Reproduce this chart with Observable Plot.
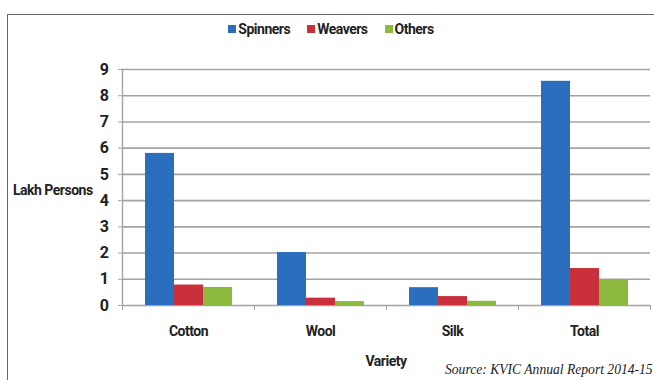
<!DOCTYPE html>
<html><head><meta charset="utf-8">
<script src="https://cdn.jsdelivr.net/npm/d3@7"></script>
<script src="https://cdn.jsdelivr.net/npm/@observablehq/plot@0.6"></script>
<style>
body{margin:0;background:#fff}
#wrap{position:relative;width:654px;height:380px;overflow:hidden;background:#fff;font-family:Roboto,"Open Sans",sans-serif;letter-spacing:-0.5px}
#border{position:absolute;left:7px;top:14px;width:700px;height:420px;border-left:1.5px solid #666;border-top:1.5px solid #666;box-sizing:border-box}
#chart{position:absolute;left:0;top:0}
#legend{position:absolute;left:8px;width:646px;top:21px;display:flex;justify-content:center;align-items:center;font-weight:bold;font-size:14px;line-height:16px;color:#222;white-space:nowrap}
#legend .it{display:flex;align-items:center;margin:0 8.5px}
#legend .sw{width:8px;height:8px;margin-right:2px}
#ylab{position:absolute;left:13px;top:182px;font-weight:bold;font-size:14px;line-height:16px;color:#222;white-space:nowrap}
#xlab{position:absolute;left:386px;transform:translateX(-50%);top:353px;font-weight:bold;font-size:14px;line-height:16px;color:#222;white-space:nowrap}
#source{position:absolute;left:445px;top:362px;font-family:"Liberation Serif","DejaVu Serif",serif;font-style:italic;font-size:13.6px;line-height:16px;letter-spacing:0;color:#222;white-space:nowrap}
</style>
</head><body>
<div id="wrap">
  <div id="border"></div>
  <div id="chart"></div>
  <div id="legend"></div>
  <div id="ylab">Lakh Persons</div>
  <div id="xlab">Variety</div>
  <div id="source">Source: KVIC Annual Report 2014-15</div>
</div>
<script>
const varieties = ["Cotton", "Wool", "Silk", "Total"];
const series = ["Spinners", "Weavers", "Others"];
const spinners = [5.8, 2.02, 0.68, 8.55];
const weavers = [0.78, 0.28, 0.34, 1.41];
const others = [0.69, 0.15, 0.16, 0.99];
const colors = ["#2a6ebd", "#c9303b", "#8cba3e"];
const yTicks = [0, 1, 2, 3, 4, 5, 6, 7, 8, 9];

const valuesBySeries = [spinners, weavers, others];
const rows = [];
varieties.forEach((v, i) => {
  series.forEach((s, j) => rows.push({variety: v, series: s, value: valuesBySeries[j][i]}));
});

const legend = document.getElementById("legend");
series.forEach((s, j) => {
  const it = document.createElement("div");
  it.className = "it";
  it.innerHTML = `<span class="sw" style="background:${colors[j]}"></span><span>${s}</span>`;
  legend.appendChild(it);
});

const gridColor = "#a3a3a3";
const chart = Plot.plot({
  width: 654,
  height: 380,
  marginLeft: 122,
  marginRight: 4,
  marginTop: 69,
  marginBottom: 75,
  style: {fontFamily: 'Roboto,"Open Sans",sans-serif', color: "#222", background: "transparent", letterSpacing: "-0.5px"},
  fx: {domain: varieties, padding: 0, label: null},
  x: {domain: series, paddingInner: 0, paddingOuter: 0.737, axis: null},
  y: {domain: [0, 9], axis: null},
  color: {domain: series, range: colors},
  marks: [
    Plot.gridY(yTicks, {stroke: gridColor, strokeOpacity: 1, strokeWidth: 1.6}),
    Plot.frame({anchor: "left", facetAnchor: "left", stroke: gridColor, strokeWidth: 1.4}),
    Plot.barY(rows, {fx: "variety", x: "series", y: "value", fill: "series"}),
    Plot.axisY(yTicks, {tickSize: 4, tickPadding: 10, fontSize: 16, fontWeight: "bold", stroke: gridColor, strokeOpacity: 1, label: null, tickFormat: d => d}),
    Plot.axisFx({anchor: "bottom", tickSize: 0, tickPadding: 21, fontSize: 14, fontWeight: "bold", label: null}),
    Plot.axisFx({anchor: "bottom", tickSize: 5, tickFormat: () => "", dx: -66, label: null, stroke: gridColor, strokeOpacity: 1}),
    Plot.axisFx(["Total"], {anchor: "bottom", tickSize: 5, tickFormat: () => "", dx: 66, label: null, stroke: gridColor, strokeOpacity: 1})
  ]
});
document.getElementById("chart").appendChild(chart);
</script>
</body></html>
